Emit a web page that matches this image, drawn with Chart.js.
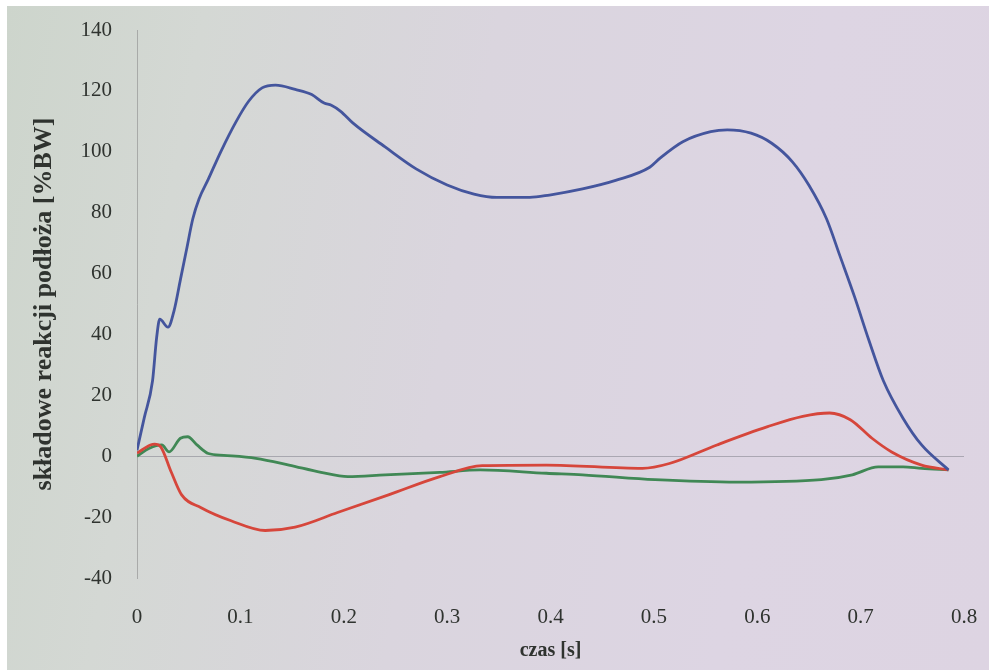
<!DOCTYPE html>
<html lang="pl">
<head>
<meta charset="utf-8">
<title>Składowe reakcji podłoża</title>
<script src="https://cdn.jsdelivr.net/npm/chart.js@4.4.0/dist/chart.umd.min.js"></script>
<style>
    html, body { margin: 0; padding: 0; background: #fff; }
    #tlo {
        position: absolute; left: 7px; top: 6px; width: 982px; height: 664px;
        background: linear-gradient(100deg, #cdd5cc 0%, #d4d8d4 18%, #dad5de 45%, #ddd5e3 75%, #ddd4e2 100%);
    }
    #wykres { position: absolute; left: 0; top: 0; }
</style>
</head>
<body>
<div id="tlo"></div>
<canvas id="wykres" width="990" height="670"></canvas>
<script>
// składowa pionowa (niebieska)
var czasPionowa = [0, 0.007, 0.015, 0.019, 0.022, 0.030, 0.036, 0.042, 0.048, 0.054,
    0.060, 0.069, 0.081, 0.096, 0.108, 0.121, 0.134, 0.153, 0.169, 0.181,
    0.188, 0.197, 0.209, 0.240, 0.270, 0.300, 0.326, 0.348, 0.380, 0.399,
    0.431, 0.463, 0.496, 0.506, 0.528, 0.555, 0.571, 0.594, 0.614, 0.634,
    0.650, 0.667, 0.680, 0.694, 0.708, 0.722, 0.741, 0.759, 0.785];
var silaPionowa = [2, 12.6, 24.7, 39, 45, 42.4, 48, 58, 68, 78,
    84.5, 91, 100, 110, 116.6, 121, 121.9, 120.5, 118.8, 116,
    115.3, 113.3, 109.4, 101.6, 94.4, 89.1, 86.1, 85, 85, 85.8,
    87.8, 90.6, 94.9, 97.9, 103.3, 106.6, 107.2, 106.1, 102.8, 96.7,
    89, 78, 65.8, 52.5, 38.1, 24.8, 12.5, 3.7, -4.5];

// składowa przednio-tylna (czerwona)
var czasPrzednia = [0, 0.013, 0.017, 0.023, 0.033, 0.043, 0.062, 0.091, 0.124, 0.153,
    0.194, 0.244, 0.293, 0.334, 0.396, 0.489, 0.515, 0.561, 0.610, 0.644,
    0.670, 0.690, 0.711, 0.730, 0.759, 0.785];
var silaPrzednia = [1, 3.7, 4, 3.1, -5.1, -12.6, -16.9, -21.2, -24.4, -23.3,
    -18.5, -12.6, -6.7, -3.1, -2.9, -4.0, -2.4, 3.7, 9.7, 13.1,
    14.2, 12.0, 5.9, 1.4, -2.9, -4.5];

// składowa boczna (zielona)
var czasBoczna = [0, 0.012, 0.024, 0.031, 0.042, 0.049, 0.058, 0.069, 0.084, 0.115,
    0.147, 0.178, 0.204, 0.240, 0.293, 0.332, 0.396, 0.431, 0.501, 0.581,
    0.662, 0.692, 0.717, 0.741, 0.759, 0.785];
var silaBoczna = [0, 2.6, 3.7, 1.4, 5.9, 6.4, 3.7, 0.9, 0.3, -0.7,
    -2.9, -5.3, -6.7, -6.1, -5.3, -4.5, -5.6, -6.1, -7.7, -8.5,
    -7.7, -6.1, -3.5, -3.5, -4.0, -4.5];

var kolorTekstu = "#2f332f";

// łączy czasy i wartości w punkty {x, y}
function punkty(czas, sila) {
    return czas.map(function (t, i) {
        return { x: t, y: sila[i] };
    });
}

function seria(nazwa, czas, sila, kolor) {
    return {
        label: nazwa,
        data: punkty(czas, sila),
        borderColor: kolor,
        borderWidth: 2.8,
        pointRadius: 0,
        fill: false,
        cubicInterpolationMode: "monotone",
    };
}

Chart.defaults.font.family = '"Liberation Serif", "Times New Roman", serif';
Chart.defaults.color = kolorTekstu;

new Chart(document.getElementById("wykres"), {
    type: "line",
    data: {
        datasets: [
            seria("pionowa", czasPionowa, silaPionowa, "#44559d"),
            seria("przednio-tylna", czasPrzednia, silaPrzednia, "#d6463b"),
            seria("boczna", czasBoczna, silaBoczna, "#408855"),
        ],
    },
    options: {
        responsive: false,
        animation: false,
        layout: { padding: { top: 30, right: 26, left: 0, bottom: 0 } },
        plugins: {
            legend: { display: false },
            tooltip: { enabled: false },
        },
        scales: {
            x: {
                type: "linear",
                min: 0,
                max: 0.8,
                grid: { display: false, drawTicks: false },
                border: { display: false },
                ticks: {
                    stepSize: 0.1,
                    padding: 27,
                    font: { size: 21 },
                    callback: function (v) { return String(+v.toFixed(1)); },
                },
                title: {
                    display: true,
                    text: "czas [s]",
                    font: { size: 20, weight: "bold" },
                    padding: { top: 0, bottom: 7 },
                },
                // stała wysokość osi, bez dodatkowych marginesów od etykiet
                afterFit: function (s) {
                    s.height = 92;
                    s.paddingLeft = 0;
                    s.paddingRight = 0;
                },
            },
            y: {
                min: -40,
                max: 140,
                grid: {
                    drawTicks: false,
                    color: function (c) {
                        return c.tick && c.tick.value === 0 ? "rgba(130,130,140,0.55)" : "rgba(0,0,0,0)";
                    },
                },
                border: { color: "rgba(140,140,140,0.6)", width: 1 },
                ticks: {
                    stepSize: 20,
                    padding: 25,
                    font: { size: 21 },
                },
                title: {
                    display: true,
                    text: "składowe reakcji podłoża [%BW]",
                    font: { size: 26, weight: "bold" },
                    padding: { top: 29, bottom: 0 },
                },
                afterFit: function (s) {
                    s.width = 137;
                    s.paddingTop = 0;
                    s.paddingBottom = 0;
                },
            },
        },
    },
});
</script>
</body>
</html>
